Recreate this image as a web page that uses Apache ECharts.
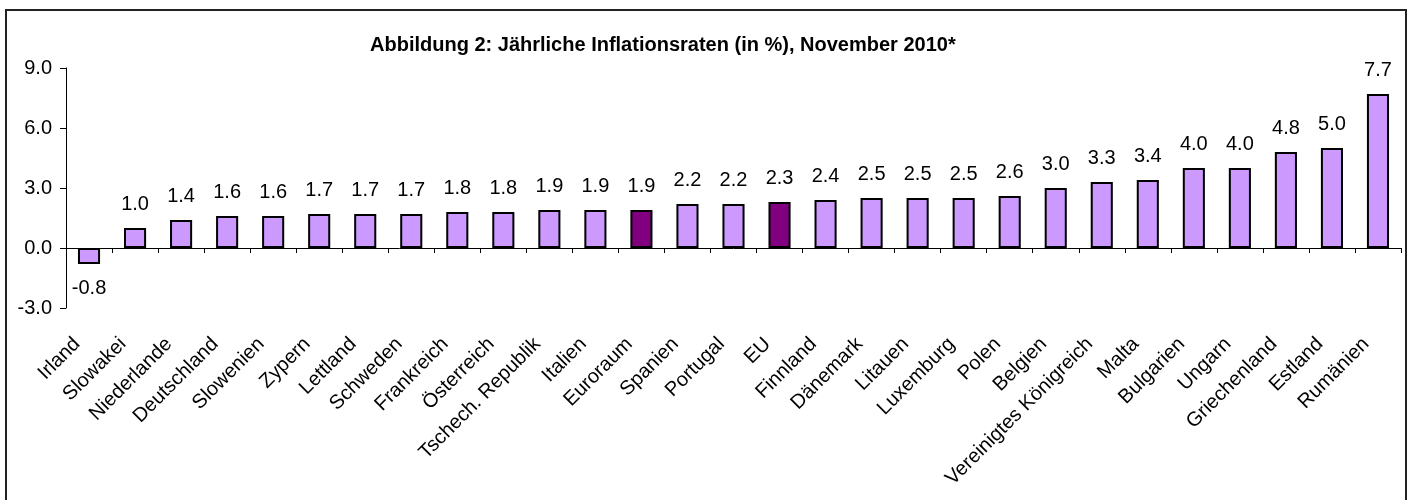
<!DOCTYPE html>
<html>
<head>
<meta charset="utf-8">
<script src="https://cdn.jsdelivr.net/npm/echarts@6/dist/echarts.min.js"></script>
<style>
  html, body { margin: 0; padding: 0; background: #fff; }
  #chart { width: 1413px; height: 500px; }
</style>
</head>
<body>
<div id="chart"></div>
<script>
// Länder (sortiert nach Rate)
const categories = ['Irland', 'Slowakei', 'Niederlande', 'Deutschland', 'Slowenien', 'Zypern', 'Lettland',
  'Schweden', 'Frankreich', 'Österreich', 'Tschech. Republik', 'Italien', 'Euroraum', 'Spanien', 'Portugal',
  'EU', 'Finnland', 'Dänemark', 'Litauen', 'Luxemburg', 'Polen', 'Belgien', 'Vereinigtes Königreich',
  'Malta', 'Bulgarien', 'Ungarn', 'Griechenland', 'Estland', 'Rumänien'];
const rates = [-0.8, 1.0, 1.4, 1.6, 1.6, 1.7, 1.7, 1.7, 1.8, 1.8, 1.9, 1.9, 1.9, 2.2, 2.2,
  2.3, 2.4, 2.5, 2.5, 2.5, 2.6, 3.0, 3.3, 3.4, 4.0, 4.0, 4.8, 5.0, 7.7];
// Aggregate werden dunkel dargestellt
const aggregates = ['Euroraum', 'EU'];

const FONT = 'Liberation Sans, Arial, sans-serif';

const chart = echarts.init(document.getElementById('chart'));

const option = {
  backgroundColor: '#fff',
  animation: false,
  title: {
    text: 'Abbildung 2: Jährliche Inflationsraten (in %), November 2010*',
    left: 365,
    top: 30,
    textStyle: { fontFamily: FONT, fontSize: 20, fontWeight: 'bold', color: '#000' }
  },
  graphic: [{
    type: 'rect',
    shape: { x: 6, y: 10, width: 1400, height: 520 },
    style: { fill: 'none', stroke: '#222', lineWidth: 2 },
    silent: true
  }],
  grid: { left: 66, right: 12, top: 68, height: 240, outerBoundsMode: 'none' },
  xAxis: {
    type: 'category',
    data: categories,
    axisLine: { onZero: true, lineStyle: { color: '#000', width: 1 } },
    axisTick: { show: true, length: 5, lineStyle: { color: '#000' } },
    axisLabel: {
      interval: 0,
      rotate: 45,
      margin: 21,
      padding: [0, 17, 0, 0],
      fontFamily: FONT,
      fontSize: 20,
      color: '#000'
    },
    splitLine: { show: false }
  },
  yAxis: {
    type: 'value',
    min: -3,
    max: 9,
    interval: 3,
    axisLine: { show: true, lineStyle: { color: '#000', width: 1 } },
    axisTick: { show: true, length: 6, lineStyle: { color: '#000' } },
    axisLabel: {
      margin: 14,
      fontFamily: FONT,
      fontSize: 20,
      color: '#000',
      formatter: v => v.toFixed(1)
    },
    splitLine: { show: false }
  },
  series: [{
    type: 'bar',
    barCategoryGap: '52%',
    data: rates.map((v, i) => ({
      value: v,
      itemStyle: { color: aggregates.includes(categories[i]) ? '#800080' : '#CC99FF' },
      label: v < 0 ? { position: 'bottom', distance: 14 } : {}
    })),
    itemStyle: { borderColor: '#000', borderWidth: 2 },
    label: {
      show: true,
      position: 'top',
      distance: 14,
      fontFamily: FONT,
      fontSize: 20,
      color: '#000',
      formatter: p => p.value.toFixed(1)
    }
  }]
};

chart.setOption(option);
</script>
</body>
</html>
